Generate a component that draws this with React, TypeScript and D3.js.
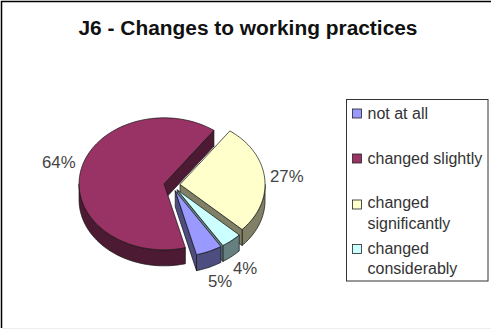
import React from "react";
import * as d3 from "d3";

const categories = ["not at all", "changed slightly", "changed significantly", "changed considerably"];
const shares = [5, 64, 27, 4];
const topColors = ["#9999ff", "#993366", "#ffffcc", "#ccffff"];
const wallColors = ["#4d4d80", "#4d1a33", "#808066", "#668080"];
const legendLines = [["not at all"], ["changed slightly"], ["changed", "significantly"], ["changed", "considerably"]];
const legendBaselines = [[119], [164], [208, 229], [254, 274]];
const swatchCentres = [113.5, 158.5, 204.5, 249];
const labelAnchors: [number, number][] = [[208, 287], [42, 168], [270, 182], [233, 274]];

const W = 491;
const H = 329;
const cx = 172;
const cy = 185;
const rx = 85;
const ry = 66;
const depth = 16;
const explode = 0.095;
const FIRST = (147.5 * Math.PI) / 180;

const pieAngles = d3.pie<number>().sort(null).startAngle(FIRST).endAngle(FIRST + 2 * Math.PI)(shares);
const line = d3.line<[number, number]>();

const sweep = (a0: number, a1: number) => {
  const n = Math.max(2, Math.ceil(Math.abs(a1 - a0) / 0.03));
  return d3.range(n + 1).map((i) => a0 + ((a1 - a0) * i) / n);
};

export default function App() {
  const slices = pieAngles.map((p, i) => {
    const mid = (p.startAngle + p.endAngle) / 2;
    const ox = cx + explode * rx * Math.sin(mid);
    const oy = cy - explode * ry * Math.cos(mid);
    const at = (a: number, dy = 0): [number, number] => [ox + rx * Math.sin(a), oy - ry * Math.cos(a) + dy];
    const apex: [number, number] = [ox, oy];
    const apexLow: [number, number] = [ox, oy + depth];
    const top = line([apex, ...sweep(p.startAngle, p.endAngle).map((a) => at(a)), apex]) + "Z";
    const walls: string[] = [];
    // Rim wall: only the stretch of the arc on the near half of the ellipse shows.
    const turns = [0, 1].map((k) => [Math.PI / 2 + 2 * Math.PI * k, (3 * Math.PI) / 2 + 2 * Math.PI * k]);
    turns.forEach(([lo, hi]) => {
      const a0 = Math.max(lo, p.startAngle);
      const a1 = Math.min(hi, p.endAngle);
      if (a1 > a0) {
        const arc = sweep(a0, a1);
        walls.push(line([...arc.map((a) => at(a)), ...arc.slice().reverse().map((a) => at(a, depth))]) + "Z");
      }
    });
    // Cut faces: the trailing one faces the viewer on the right of the pie, the leading one on the left.
    if (Math.sin(p.endAngle) > 0) {
      walls.push(line([apex, at(p.endAngle), at(p.endAngle, depth), apexLow]) + "Z");
    }
    if (Math.sin(p.startAngle) < 0) {
      walls.push(line([apex, at(p.startAngle), at(p.startAngle, depth), apexLow]) + "Z");
    }
    return { top, walls, i };
  });
  const paintOrder = [1, 2, 3, 0];

  return (
    <svg
      width={W}
      height={H}
      viewBox={`0 0 ${W} ${H}`}
      style={{ position: "absolute", left: 0, top: 0, background: "#fff" }}
      fontFamily="'Liberation Sans', Arial, sans-serif"
    >
      <path d={`M1.5 ${H - 1}V1.5H${W}`} fill="none" stroke="#000" strokeWidth={1.5} />
      <path d={`M2 ${H - 0.5}H${W}`} fill="none" stroke="#eeeeee" />
      <text x={248} y={35} textAnchor="middle" fontSize={20.9} fontWeight={700} fill="#111">
        J6 - Changes to working practices
      </text>

      {paintOrder.map((idx) => (
        <g key={categories[idx]} stroke="#111" strokeWidth={0.7} strokeLinejoin="round">
          {slices[idx].walls.map((d, k) => (
            <path key={k} d={d} fill={wallColors[idx]} />
          ))}
          <path d={slices[idx].top} fill={topColors[idx]} />
        </g>
      ))}

      {shares.map((v, i) => (
        <text key={i} x={labelAnchors[i][0]} y={labelAnchors[i][1]} fontSize={16.8} fill="#444">
          {v}%
        </text>
      ))}

      <rect x={346.5} y={99.5} width={141.5} height={181.5} fill="#fff" stroke="#333" strokeWidth={1} />
      {categories.map((c, i) => (
        <g key={c}>
          <rect
            x={352.5}
            y={swatchCentres[i] - 4.5}
            width={9}
            height={9}
            fill={topColors[i]}
            stroke="#222"
            strokeWidth={0.8}
          />
          {legendLines[i].map((t, k) => (
            <text key={t} x={367.5} y={legendBaselines[i][k]} fontSize={16} fill="#333">
              {t}
            </text>
          ))}
        </g>
      ))}
    </svg>
  );
}
